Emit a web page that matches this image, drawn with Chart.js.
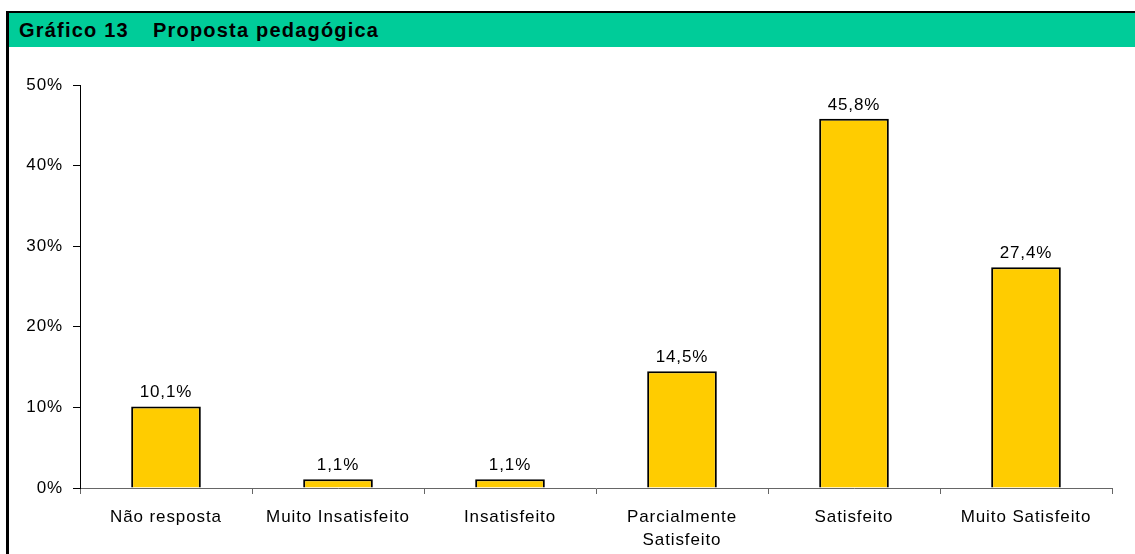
<!DOCTYPE html>
<html>
<head>
<meta charset="utf-8">
<script src="https://cdn.jsdelivr.net/npm/chart.js@4.4.1/dist/chart.umd.min.js"></script>
<style>
  body { margin: 0; background: #fff; font-family: "Liberation Sans", Arial, sans-serif; }
  #frame { position: absolute; left: 6px; top: 11px; width: 1200px; height: 600px;
           border-left: 3px solid #000; border-top: 2px solid #000; }
  #header { position: absolute; left: 9px; top: 13px; width: 1200px; height: 34px; background: #00CC99; }
  #header span { position: absolute; top: 6px; font-weight: bold; font-size: 20px; letter-spacing: 1.2px; color: #000; }
</style>
</head>
<body>
<div id="frame"></div>
<div id="header"><span style="left:10px">Gráfico 13</span><span style="left:144px">Proposta pedagógica</span></div>
<canvas id="chart" width="1135" height="554" style="position:absolute;left:0;top:0"></canvas>
<script>
// data
const categories = ['Não resposta', 'Muito Insatisfeito', 'Insatisfeito', ['Parcialmente', 'Satisfeito'], 'Satisfeito', 'Muito Satisfeito'];
const values = [10.1, 1.1, 1.1, 14.5, 45.8, 27.4];
const yTicks = [0, 10, 20, 30, 40, 50];

const fontFamily = '"Liberation Sans", Arial, sans-serif';

// the original text is a bit wider than Liberation Sans, so space letters out a little
const spacing = {
  id: 'spacing',
  beforeUpdate(chart) { chart.ctx.letterSpacing = '0.9px'; },
  beforeDraw(chart) { chart.ctx.letterSpacing = '0.9px'; }
};

// value labels above each bar
const valueLabels = {
  id: 'valueLabels',
  afterDatasetsDraw(chart) {
    const ctx = chart.ctx;
    ctx.save();
    ctx.font = '17px ' + fontFamily;
    ctx.fillStyle = '#000';
    ctx.textAlign = 'center';
    ctx.textBaseline = 'middle';
    chart.getDatasetMeta(0).data.forEach((bar, i) => {
      const txt = values[i].toFixed(1).replace('.', ',') + '%';
      ctx.fillText(txt, bar.x, bar.y - 14);
    });
    ctx.restore();
  }
};

const ctx = document.getElementById('chart').getContext('2d');
const chart = new Chart(ctx, {
  type: 'bar',
  data: {
    labels: categories,
    datasets: [{
      data: values,
      backgroundColor: '#FFCC00',
      borderColor: '#000',
      borderWidth: 2,
      borderSkipped: 'bottom',
      categoryPercentage: 1,
      barPercentage: 0.405
    }]
  },
  options: {
    responsive: false,
    animation: false,
    layout: { padding: { top: 85, right: 23, left: 0, bottom: 0 } },
    plugins: { legend: { display: false }, tooltip: { enabled: false } },
    scales: {
      x: {
        grid: { drawOnChartArea: false, tickLength: 6, color: '#666', offset: true },
        border: { color: '#666', width: 1 },
        ticks: { color: '#000', padding: 11, maxRotation: 0, autoSkip: false,
                 font: { family: fontFamily, size: 17, lineHeight: 1.4 } },
        afterFit(scale) { scale.height = 66; }
      },
      y: {
        min: 0,
        max: 50,
        afterBuildTicks(scale) { scale.ticks = yTicks.map(v => ({ value: v })); },
        grid: { drawOnChartArea: false, tickLength: 7, color: '#000' },
        border: { color: '#000', width: 1 },
        ticks: { color: '#000', padding: 10, callback: v => v + '%',
                 font: { family: fontFamily, size: 17 } },
        afterFit(scale) { scale.width = 80; }
      }
    }
  },
  plugins: [spacing, valueLabels]
});
</script>
</body>
</html>
